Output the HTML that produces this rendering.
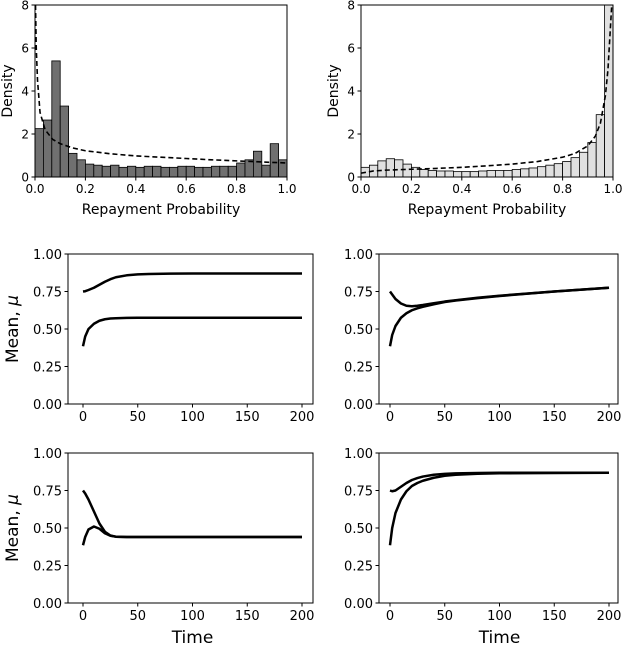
<!DOCTYPE html>
<html><head><meta charset="utf-8"><style>
html,body{margin:0;padding:0;background:#fff;}
svg{display:block;font-family:"DejaVu Sans","Liberation Sans",sans-serif;}
</style></head><body>
<svg id="fig" width="624" height="652" viewBox="0 0 624 652" xmlns="http://www.w3.org/2000/svg"></svg>
<script>
// Histogram data (30 bins over [0,1])
const histLeft = [2.25,2.65,5.4,3.3,1.1,0.8,0.6,0.55,0.5,0.55,0.45,0.5,0.45,0.5,0.5,0.45,0.45,0.5,0.5,0.45,0.45,0.5,0.5,0.5,0.65,0.8,1.2,0.55,1.55,0.8];
const histRight = [0.45,0.55,0.75,0.85,0.8,0.6,0.45,0.35,0.3,0.28,0.28,0.25,0.25,0.25,0.28,0.3,0.3,0.3,0.35,0.38,0.42,0.48,0.55,0.62,0.72,0.9,1.15,1.6,2.9,10];
const curveLeftX = [0.002,0.005,0.01,0.02,0.04,0.07,0.1,0.15,0.2,0.3,0.4,0.5,0.6,0.7,0.8,0.9,1.0];
const curveLeftY = [8,6,4.5,3,2.2,1.75,1.55,1.35,1.22,1.08,0.98,0.92,0.86,0.8,0.75,0.7,0.65];
const curveRightX = [0,0.05,0.1,0.2,0.3,0.4,0.5,0.6,0.7,0.8,0.85,0.9,0.93,0.95,0.97,0.98,0.99,0.995];
const curveRightY = [0.18,0.28,0.32,0.36,0.4,0.45,0.52,0.6,0.72,0.92,1.1,1.45,1.9,2.5,3.8,5,7,8];
const histTicksX = ["0.0","0.2","0.4","0.6","0.8","1.0"];
const histTicksY = ["0","2","4","6","8"];
// Time series data
const timeT = [0,2,5,10,15,20,25,30,40,50,60,80,100,150,200];
const a1 = [0.75,0.752,0.76,0.775,0.795,0.815,0.832,0.845,0.858,0.864,0.867,0.869,0.87,0.87,0.87];
const a2 = [0.385,0.45,0.5,0.535,0.555,0.565,0.57,0.572,0.574,0.575,0.575,0.575,0.575,0.575,0.575];
const b1 = [0.75,0.73,0.7,0.67,0.655,0.652,0.655,0.66,0.672,0.683,0.692,0.708,0.722,0.75,0.775];
const b2 = [0.385,0.46,0.52,0.575,0.605,0.625,0.638,0.648,0.665,0.68,0.69,0.706,0.72,0.75,0.775];
const c1 = [0.75,0.73,0.69,0.61,0.53,0.475,0.45,0.442,0.44,0.44,0.44,0.44,0.44,0.44,0.44];
const c2 = [0.385,0.44,0.49,0.51,0.495,0.465,0.448,0.442,0.44,0.44,0.44,0.44,0.44,0.44,0.44];
const d1 = [0.75,0.745,0.75,0.775,0.8,0.82,0.833,0.843,0.855,0.861,0.864,0.867,0.868,0.868,0.868];
const d2 = [0.385,0.5,0.6,0.69,0.745,0.78,0.8,0.815,0.835,0.848,0.855,0.862,0.865,0.867,0.868];
const timeTicksX = ["0","50","100","150","200"];
const timeTicksY = ["0.00","0.25","0.50","0.75","1.00"];

const NS="http://www.w3.org/2000/svg";
const svg=document.getElementById('fig');
function mk(tag,attrs,parent){const e=document.createElementNS(NS,tag);for(const k in attrs)e.setAttribute(k,attrs[k]);(parent||svg).appendChild(e);return e;}
function txt(x,y,s,size,anchor,name,rot){const t=mk('text',{x:x,y:y,'font-size':size,'text-anchor':anchor||'middle',fill:'#000'});if(rot)t.setAttribute('transform',`rotate(-90 ${x} ${y})`);t.textContent=s;


return t;}

function hist(L,R,T,B,vals,cx,cy,fill,prefix){
  const g=mk('g',{});
  
  
  const sx=v=>L+v*(R-L), sy=v=>B-v/8*(B-T);
  const clip=mk('clipPath',{id:prefix+'clip'},g);mk('rect',{x:L,y:T,width:R-L,height:B-T},clip);
  const bars=mk('g',{'clip-path':`url(#${prefix}clip)`},g);
  vals.forEach((v,i)=>{const x0=sx(i/vals.length),x1=sx((i+1)/vals.length);
    const r=mk('rect',{x:x0,y:sy(v),width:x1-x0,height:B-sy(v),fill:fill,stroke:'#000','stroke-width':0.8},bars);
    
    });
  let d='';cx.forEach((x,i)=>{d+=(i?'L':'M')+sx(x)+' '+sy(cy[i]);});
  const p=mk('path',{d:d,fill:'none',stroke:'#000','stroke-width':1.6,'stroke-dasharray':'5,3'},bars);
  
  
  mk('rect',{x:L,y:T,width:R-L,height:B-T,fill:'none',stroke:'#000','stroke-width':1},g);
  histTicksX.forEach(s=>{const x=sx(parseFloat(s));mk('line',{x1:x,x2:x,y1:B,y2:B+3.5,stroke:'#000'},g);txt(x,B+16,s,12,'middle','x-tick-label');});
  histTicksY.forEach(s=>{const y=sy(parseFloat(s));mk('line',{x1:L-3.5,x2:L,y1:y,y2:y,stroke:'#000'},g);txt(L-6,y+4.5,s,12,'end','y-tick-label');});
  txt((L+R)/2,B+37,'Repayment Probability',14,'middle','x-axis-title');
  txt(L-23,(T+B)/2,'Density',14,'middle','y-axis-title',true);
}
hist(35,287,5,177,histLeft,curveLeftX,curveLeftY,'#707070','left');
hist(361,613,5,177,histRight,curveRightX,curveRightY,'#e0e0e0','right');

function ts(L,R,x0,x200,T,B,s1,s2,prefix,showY,showX){
  const g=mk('g',{});
  
  
  const sx=v=>x0+v/200*(x200-x0), sy=v=>B-v*(B-T);
  [s1,s2].forEach(s=>{let d='';timeT.forEach((t,i)=>{d+=(i?'L':'M')+sx(t).toFixed(2)+' '+sy(s[i]).toFixed(2);});
    const p=mk('path',{d:d,fill:'none',stroke:'#000','stroke-width':2.5,'stroke-linejoin':'round'},g);
    
    });
  mk('rect',{x:L,y:T,width:R-L,height:B-T,fill:'none',stroke:'#000','stroke-width':1},g);
  timeTicksX.forEach(s=>{const x=sx(parseFloat(s));mk('line',{x1:x,x2:x,y1:B,y2:B+3.5,stroke:'#000'},g);txt(x,B+17,s,13,'middle','x-tick-label');});
  timeTicksY.forEach(s=>{const y=sy(parseFloat(s));mk('line',{x1:L-3.5,x2:L,y1:y,y2:y,stroke:'#000'},g);txt(L-6,y+5,s,13,'end','y-tick-label');});
  if(showY){const t=txt(L-50,(T+B)/2,'Mean, ',17,'middle','y-axis-title',true);const ts2=document.createElementNS(NS,'tspan');ts2.setAttribute('font-style','italic');ts2.textContent='μ';t.appendChild(ts2);}
  if(showX) txt((x0+x200)/2,B+40,'Time',17,'middle','x-axis-title');
}
ts(68,313,83,302,254,404,a1,a2,'a',true,false);
ts(379,618,390,609,254,404,b1,b2,'b',false,false);
ts(68,313,83,302,453,603,c1,c2,'c',true,true);
ts(379,618,390,609,453,603,d1,d2,'d',false,true);
</script>
</body></html>
